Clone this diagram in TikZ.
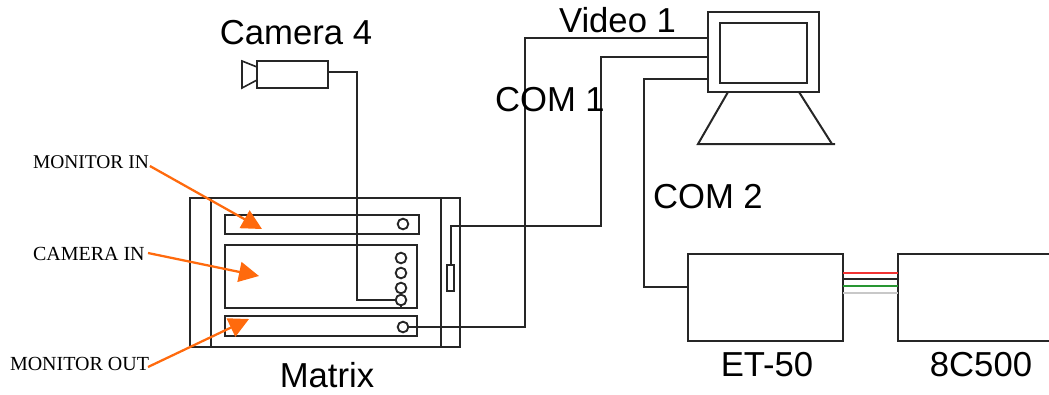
\documentclass[tikz,border=0pt]{standalone}
\usepackage{fontspec}
\setmainfont{Liberation Sans}
\newfontfamily\timesf{Liberation Serif}
\usetikzlibrary{fit,arrows.meta}
\definecolor{orangearrow}{HTML}{FF6A0D}
\definecolor{ink}{HTML}{262626}
\tikzset{
  x=0.75pt,y=-0.75pt,
  every path/.style={line width=1.5pt,draw=ink,line join=miter},
  pbox/.style={fit={#1},inner sep=0pt,draw=ink,line width=1.5pt},
  port/.style={circle,draw=ink,line width=1.4pt,minimum size=8pt,inner sep=0pt},
  wire/.style={draw=ink,line width=1.5pt},
  biglabel/.style={font=\fontsize{26}{28}\selectfont,inner sep=0pt,text=black,draw=none},
  smalllabel/.style={font=\timesf\fontsize{14.6}{16}\selectfont,inner sep=0pt,text=black,draw=none},
  smalllabelb/.style={font=\timesf\fontsize{15}{16}\selectfont,inner sep=0pt,text=black,draw=none},
  callout/.style={draw=orangearrow,line width=1.7pt,-{Triangle[length=15pt,width=15pt,fill=orangearrow]}},
  link/.style={line width=1.5pt}
}
\begin{document}
\begin{tikzpicture}
\useasboundingbox[draw=none] (0,0) rectangle (1049,394);
% Matrix
\node[pbox={(190,198)(460,347)}] (matrix) {};
\draw[wire] (211,198) -- (211,347);
\draw[wire] (441,198) -- (441,347);
\node[pbox={(225,215)(419,234)}] (pmonin) {};
\node[pbox={(225,245)(417,308)}] (pcamin) {};
\node[pbox={(225,316)(417,336)}] (pmonout) {};
\node[port] (p0) at (403,224) {};
\node[port] (p1) at (401,258) {};
\node[port] (p2) at (401,273) {};
\node[port] (p3) at (401,288) {};
\node[port] (p4) at (401,300) {};
\node[port] (p5) at (403,327) {};
\draw[wire] (p3) -- (p4) -- (401,308);
\node[pbox={(447,265)(454,291)}] (conn) {};
% Camera
\node[pbox={(257,61)(328,88)}] (cam) {};
\draw[wire,line width=1.2pt] (257,67) -- (242,61) -- (242,88) -- (257,80);
% Monitor
\node[pbox={(708,12)(819,92)}] (mon) {};
\node[pbox={(720,23)(807,83)}] (screen) {};
\coordinate (sl) at (728,92);
\coordinate (sr) at (799,92);
\coordinate (bl) at (698,144);
\coordinate (br) at (835,144);
\draw[wire] (sl) -- (bl) -- (br) -- (832,144) -- (sr);
% Boxes
\node[pbox={(688,254)(843,341)}] (et) {};
\node[pbox={(898,254)(1052,341)}] (c8) {};
% Wires
\coordinate (camout) at (328,72);
\draw[wire] (camout) -- (357,72) -- (357,300) -- (p4.west);
\coordinate (mv) at (708,38);
\coordinate (mc1) at (708,57);
\coordinate (mc2) at (708,79);
\draw[wire] (p5.east) -- (525,327) -- (525,38) -- (mv);
\draw[wire] (conn.north) -- (450.5,226) -- (601,226) -- (601,57) -- (mc1);
\draw[wire] (mc2) -- (644,79) -- (644,287) -- (688,287);
% Links
\draw[link,draw={rgb,255:red,240;green,50;blue,50}] (843,273) -- (898,273);
\draw[link,draw=ink] (843,279) -- (898,279);
\draw[link,draw={rgb,255:red,40;green,150;blue,50}] (843,286) -- (898,286);
\draw[link,draw={rgb,255:red,200;green,200;blue,200}] (843,293) -- (898,293);
% Labels
\node[biglabel] (lcam) at (296,33) {Camera 4};
\node[biglabel,anchor=west] (lv) at (558,20) {Video 1};
\node[biglabel,anchor=west] (lc1) at (494,100) {COM 1};
\node[biglabel,anchor=west] (lc2) at (652,197) {COM 2};
\node[biglabel] (let) at (767,365) {ET-50};
\node[biglabel] (l8c) at (981,365) {8C500};
\node[biglabel] (lmx) at (327,375) {Matrix};
\node[smalllabel,anchor=west] (lmi) at (32,162) {MONITOR IN};
\node[smalllabelb,anchor=west] (lci) at (32,254) {CAMERA IN};
\node[smalllabelb,anchor=west] (lmo) at (9,364) {MONITOR OUT};
% Callouts
\coordinate (t1) at (262,229);
\coordinate (t2) at (259,276);
\coordinate (t3) at (249,319);
\draw[callout] (lmi.east) ++(0,4) -- (t1);
\draw[callout] (148,253) -- (t2);
\draw[callout] (148,367) -- (t3);
\end{tikzpicture}
\end{document}
